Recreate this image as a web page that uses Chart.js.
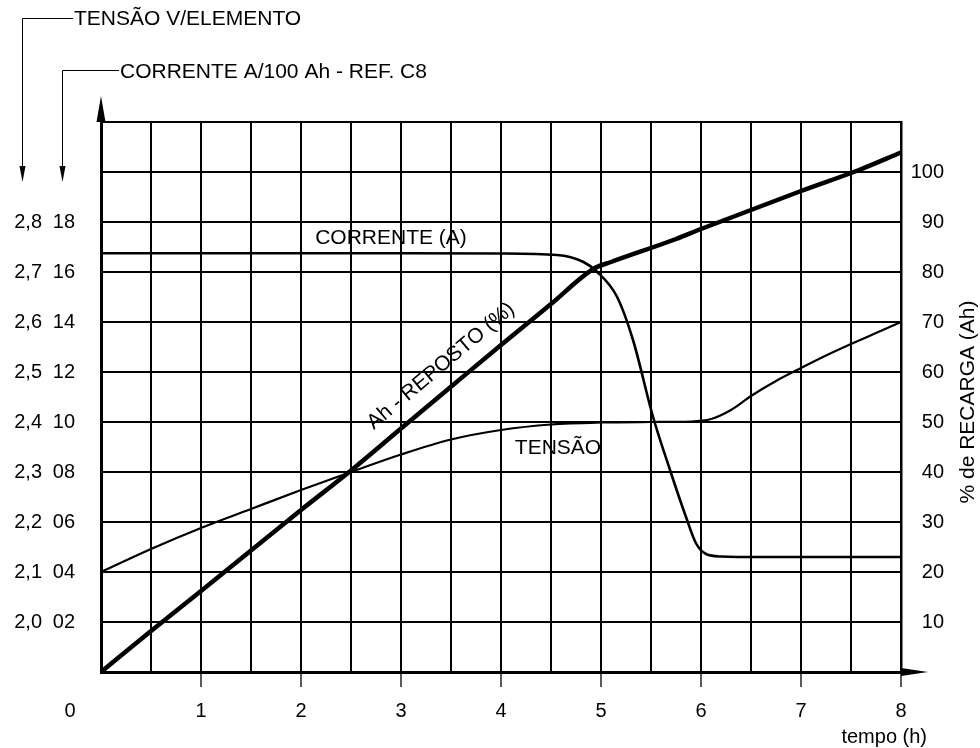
<!DOCTYPE html>
<html>
<head>
<meta charset="utf-8">
<script src="https://cdn.jsdelivr.net/npm/chart.js@4.4.0/dist/chart.umd.min.js"></script>
<style>
html,body{margin:0;padding:0;background:#fff;}
#wrap{width:980px;height:748px;}
canvas{display:block;}
</style>
</head>
<body>
<div id="wrap"><canvas id="c" width="980" height="748"></canvas></div>
<script>
// ---- tick labels ----
const hourLabels = [1, 2, 3, 4, 5, 6, 7, 8];
const gridHours = [0, 0.5, 1, 1.5, 2, 2.5, 3, 3.5, 4, 4.5, 5, 5.5, 6, 6.5, 7, 7.5, 8];
const voltTicks = [2.0, 2.1, 2.2, 2.3, 2.4, 2.5, 2.6, 2.7, 2.8];
const currentTicks = [2, 4, 6, 8, 10, 12, 14, 16, 18];
const rechargeTicks = [10, 20, 30, 40, 50, 60, 70, 80, 90, 100];
const rechargeGrid = [0, 10, 20, 30, 40, 50, 60, 70, 80, 90, 100, 110];

// ---- series: CORRENTE (A) ----
const currentTime = [0, 1, 2, 3, 4, 4.56, 4.82, 4.96, 5.16, 5.32, 5.52, 5.69, 5.85, 5.95, 6.05, 6.2, 6.6, 7, 8];
const currentAmps = [16.75, 16.75, 16.75, 16.75, 16.74, 16.68, 16.41, 16.01, 15.01, 13.28, 10.21, 8.08, 6.2, 5.15, 4.72, 4.62, 4.6, 4.6, 4.6];

// ---- series: TENSÃO (V/elemento) ----
const voltTime = [0, 0.5, 1, 1.5, 2, 2.5, 3, 3.5, 4, 4.5, 5, 5.5, 5.9, 6.1, 6.3, 6.5, 6.75, 7, 7.25, 7.5, 7.75, 8];
const voltValues = [2.1, 2.146, 2.188, 2.226, 2.264, 2.3, 2.335, 2.365, 2.384, 2.395, 2.399, 2.4, 2.401, 2.406, 2.424, 2.452, 2.482, 2.508, 2.533, 2.556, 2.578, 2.6];

// ---- series: Ah - REPOSTO (%) ----
const ahTime = [0, 0.5, 1, 2, 2.5, 3, 3.52, 4, 4.5, 4.93, 5.1, 5.75, 6, 7, 7.58, 8];
const ahPercent = [0, 8.2, 16.2, 32.4, 40.3, 48.7, 57.4, 65.4, 73.6, 80.7, 82, 86.6, 88.6, 96.2, 100.4, 103.9];

const FONT = '"Liberation Sans", Arial, Helvetica, sans-serif';
const INK = '#000';
const near = (arr, v) => arr.some(a => Math.abs(a - v) < 1e-6);
const pts = (xs, ys) => xs.map((x, i) => ({ x: x, y: ys[i] }));

const decor = {
  id: 'decor',
  afterDraw(chart) {
    const ctx = chart.ctx;
    const a = chart.chartArea;
    const sx = chart.scales.x, sc = chart.scales.yCur, sv = chart.scales.yVolt, sp = chart.scales.yPct;
    ctx.save();
    ctx.fillStyle = INK;
    ctx.strokeStyle = INK;

    // axis arrows
    ctx.beginPath();
    ctx.moveTo(a.left - 4.5, a.top);
    ctx.lineTo(a.left + 4.5, a.top);
    ctx.lineTo(a.left, a.top - 26);
    ctx.closePath();
    ctx.fill();
    ctx.beginPath();
    ctx.moveTo(a.right, a.bottom - 4);
    ctx.lineTo(a.right, a.bottom + 4);
    ctx.lineTo(a.right + 27, a.bottom);
    ctx.closePath();
    ctx.fill();

    // brackets pointing to the left-hand tick columns
    function bracket(xv, yTop, xText, yEnd) {
      ctx.lineWidth = 1;
      ctx.beginPath();
      ctx.moveTo(xText, yTop + 0.5);
      ctx.lineTo(xv + 0.5, yTop + 0.5);
      ctx.lineTo(xv + 0.5, yEnd - 14);
      ctx.stroke();
      ctx.beginPath();
      ctx.moveTo(xv + 0.5 - 3, yEnd - 16);
      ctx.lineTo(xv + 0.5 + 3, yEnd - 16);
      ctx.lineTo(xv + 0.5, yEnd);
      ctx.closePath();
      ctx.fill();
    }
    bracket(22, 18, 73, 182);
    bracket(62, 70, 119, 182);

    ctx.font = '21px ' + FONT;
    ctx.textBaseline = 'middle';
    ctx.textAlign = 'left';
    ctx.fillText('TENSÃO V/ELEMENTO', 74, 19);
    ctx.fillText('CORRENTE A/100 Ah - REF. C8', 120, 72);

    // labels inside the plot
    ctx.textAlign = 'center';
    ctx.fillText('CORRENTE (A)', sx.getPixelForValue(2.9), sc.getPixelForValue(17.36));
    ctx.fillText('TENSÃO', sx.getPixelForValue(4.57), sv.getPixelForValue(2.348));
    ctx.save();
    ctx.translate(sx.getPixelForValue(3.4), sp.getPixelForValue(61.2));
    ctx.rotate(-40 * Math.PI / 180);
    ctx.fillText('Ah - REPOSTO (%)', 0, 0);
    ctx.restore();

    // origin label, x-axis title, right axis title
    ctx.font = '20px ' + FONT;
    ctx.fillText('0', 70, 711);
    ctx.textAlign = 'right';
    ctx.fillText('tempo (h)', 927, 737);
    ctx.save();
    ctx.translate(968, 402);
    ctx.rotate(-Math.PI / 2);
    ctx.textAlign = 'center';
    ctx.font = '21px ' + FONT;
    ctx.fillText('% de RECARGA (Ah)', 0, 0);
    ctx.restore();

    ctx.restore();
  }
};

const tickFont = { family: FONT, size: 20 };

new Chart(document.getElementById('c'), {
  type: 'line',
  data: {
    datasets: [
      {
        label: 'Ah - REPOSTO (%)',
        data: pts(ahTime, ahPercent),
        xAxisID: 'x', yAxisID: 'yPct',
        borderColor: INK, borderWidth: 4.5,
        pointRadius: 0, cubicInterpolationMode: 'monotone', fill: false, clip: false
      },
      {
        label: 'CORRENTE (A)',
        data: pts(currentTime, currentAmps),
        xAxisID: 'x', yAxisID: 'yCur',
        borderColor: INK, borderWidth: 2.6,
        pointRadius: 0, cubicInterpolationMode: 'monotone', fill: false, clip: false
      },
      {
        label: 'TENSÃO',
        data: pts(voltTime, voltValues),
        xAxisID: 'x', yAxisID: 'yVolt',
        borderColor: INK, borderWidth: 2.2,
        pointRadius: 0, cubicInterpolationMode: 'monotone', fill: false, clip: false
      }
    ]
  },
  options: {
    responsive: false,
    animation: false,
    devicePixelRatio: 1,
    layout: { padding: { top: 122, left: 0, right: 36, bottom: 0 } },
    plugins: { legend: { display: false }, tooltip: { enabled: false }, title: { display: false } },
    scales: {
      x: {
        type: 'linear', position: 'bottom', min: 0, max: 8,
        afterBuildTicks: s => { s.ticks = gridHours.map(v => ({ value: v })); },
        afterFit: s => { s.height = 76; },
        ticks: {
          autoSkip: false, maxRotation: 0, minRotation: 0, padding: 12,
          color: INK, font: tickFont,
          callback: v => near(hourLabels, v) ? String(v) : ''
        },
        grid: {
          color: INK, lineWidth: 2, tickLength: 15, tickWidth: 1.5,
          tickColor: c => (c.tick && near(hourLabels, c.tick.value)) ? '#222' : 'rgba(0,0,0,0)'
        },
        border: { display: true, color: INK, width: 3 }
      },
      yPct: {
        type: 'linear', position: 'right', min: 0, max: 110,
        afterBuildTicks: s => { s.ticks = rechargeGrid.map(v => ({ value: v })); },
        afterFit: s => { s.width = 43; },
        ticks: {
          autoSkip: false, padding: 8, crossAlign: 'far',
          color: INK, font: tickFont,
          callback: v => near(rechargeTicks, v) ? String(v) : ''
        },
        grid: { color: INK, lineWidth: 2, drawTicks: false },
        border: { display: true, color: INK, width: 2.5 }
      },
      yCur: {
        type: 'linear', position: 'left', min: 0, max: 22, weight: 0,
        afterBuildTicks: s => { s.ticks = currentTicks.map(v => ({ value: v })); },
        afterFit: s => { s.width = 50; },
        ticks: {
          autoSkip: false, padding: 26,
          color: INK, font: tickFont,
          callback: v => near(currentTicks, v) ? String(v).padStart(2, '0') : ''
        },
        grid: { display: false, drawTicks: false },
        border: { display: true, color: INK, width: 3 }
      },
      yVolt: {
        type: 'linear', position: 'left', min: 1.9, max: 3.0, weight: 1,
        afterBuildTicks: s => { s.ticks = voltTicks.map(v => ({ value: v })); },
        afterFit: s => { s.width = 51; },
        ticks: {
          autoSkip: false, padding: 9,
          color: INK, font: tickFont,
          callback: v => near(voltTicks, v) ? v.toFixed(1).replace('.', ',') : ''
        },
        grid: { display: false, drawTicks: false },
        border: { display: false }
      }
    }
  },
  plugins: [decor]
});
</script>
</body>
</html>
